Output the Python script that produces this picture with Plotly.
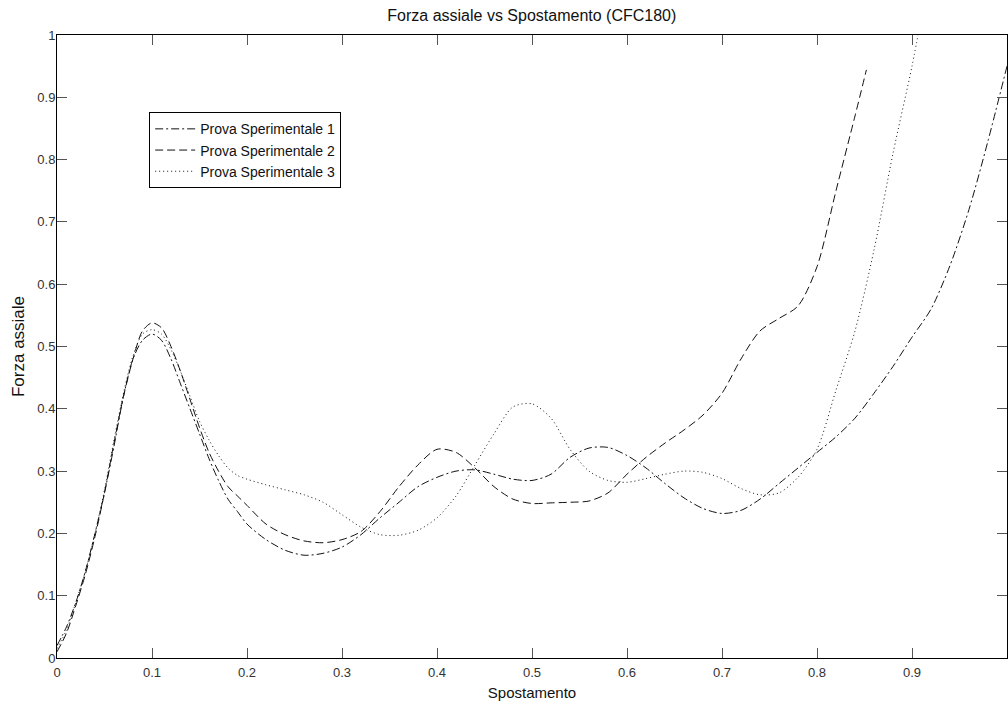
import plotly.graph_objects as go

# ---- data ----
x1 = [0, 0.01, 0.02, 0.03, 0.04, 0.05, 0.06, 0.07, 0.08, 0.09, 0.1, 0.11, 0.12, 0.13, 0.14,
      0.15, 0.16, 0.17, 0.18, 0.19, 0.2, 0.22, 0.24, 0.26, 0.28, 0.3, 0.32, 0.34, 0.36, 0.38,
      0.4, 0.42, 0.44, 0.46, 0.48, 0.5, 0.52, 0.54, 0.56, 0.58, 0.6, 0.62, 0.64, 0.66, 0.68,
      0.7, 0.72, 0.74, 0.76, 0.78, 0.8, 0.82, 0.84, 0.86, 0.88, 0.9, 0.92, 0.94, 0.96, 0.98, 1.0]
y1 = [0.02, 0.05, 0.09, 0.14, 0.2, 0.265, 0.34, 0.42, 0.48, 0.51, 0.52, 0.51, 0.48, 0.44, 0.4,
      0.36, 0.32, 0.285, 0.255, 0.235, 0.215, 0.19, 0.173, 0.165, 0.168, 0.178, 0.198, 0.225, 0.25, 0.275,
      0.29, 0.3, 0.302, 0.295, 0.287, 0.285, 0.295, 0.322, 0.337, 0.338, 0.325, 0.305, 0.28, 0.257, 0.24,
      0.232, 0.237, 0.255, 0.28, 0.305, 0.33, 0.355, 0.385, 0.425, 0.468, 0.515, 0.56, 0.63, 0.72, 0.83, 0.95]

x2 = [0, 0.01, 0.02, 0.03, 0.04, 0.05, 0.06, 0.07, 0.08, 0.09, 0.1, 0.11, 0.12, 0.13, 0.14,
      0.15, 0.16, 0.17, 0.18, 0.19, 0.2, 0.22, 0.24, 0.26, 0.28, 0.3, 0.32, 0.34, 0.36, 0.38,
      0.4, 0.42, 0.44, 0.46, 0.48, 0.5, 0.52, 0.54, 0.56, 0.58, 0.6, 0.62, 0.64, 0.66, 0.68,
      0.7, 0.72, 0.74, 0.76, 0.78, 0.8, 0.82, 0.84, 0.852]
y2 = [0.01, 0.04, 0.085, 0.135, 0.195, 0.265, 0.345, 0.42, 0.48, 0.525, 0.538, 0.53, 0.5, 0.46, 0.415,
      0.37, 0.33, 0.3, 0.275, 0.26, 0.245, 0.215, 0.198, 0.188, 0.185, 0.19, 0.203, 0.235, 0.275, 0.31,
      0.335, 0.33, 0.305, 0.275, 0.255, 0.248, 0.249, 0.25, 0.252, 0.265, 0.295, 0.322, 0.345, 0.366, 0.39,
      0.425, 0.48, 0.525, 0.545, 0.565, 0.628, 0.75, 0.87, 0.944]

x3 = [0, 0.01, 0.02, 0.03, 0.04, 0.05, 0.06, 0.07, 0.08, 0.09, 0.1, 0.11, 0.12, 0.13, 0.14,
      0.15, 0.16, 0.17, 0.18, 0.19, 0.2, 0.22, 0.24, 0.26, 0.28, 0.3, 0.32, 0.34, 0.36, 0.38,
      0.4, 0.42, 0.44, 0.46, 0.48, 0.5, 0.52, 0.54, 0.56, 0.58, 0.6, 0.62, 0.64, 0.66, 0.68,
      0.7, 0.72, 0.74, 0.76, 0.78, 0.8, 0.82, 0.84, 0.86, 0.88, 0.9, 0.91]
y3 = [0.015, 0.045, 0.09, 0.14, 0.2, 0.27, 0.35, 0.425, 0.485, 0.52, 0.527, 0.52, 0.495, 0.46, 0.42,
      0.38, 0.35, 0.325, 0.305, 0.293, 0.287, 0.278, 0.27, 0.262, 0.25, 0.23, 0.21, 0.198, 0.197, 0.205,
      0.225, 0.26, 0.31, 0.36, 0.403, 0.408, 0.385, 0.335, 0.3, 0.285, 0.282, 0.288, 0.295, 0.3, 0.298,
      0.288, 0.272, 0.262, 0.265, 0.29, 0.335, 0.43, 0.525, 0.655, 0.81, 0.95, 1.03]

names = ["Prova Sperimentale 1", "Prova Sperimentale 2", "Prova Sperimentale 3"]
dashes = ["8px,3px,2px,3px", "8px,4px", "1px,3px"]

x_ticks = [0, 0.1, 0.2, 0.3, 0.4, 0.5, 0.6, 0.7, 0.8, 0.9]
x_ticktext = ["0", "0.1", "0.2", "0.3", "0.4", "0.5", "0.6", "0.7", "0.8", "0.9"]
y_ticks = [0, 0.1, 0.2, 0.3, 0.4, 0.5, 0.6, 0.7, 0.8, 0.9, 1]
y_ticktext = ["0", "0.1", "0.2", "0.3", "0.4", "0.5", "0.6", "0.7", "0.8", "0.9", "1"]

FONT = "Liberation Sans, Arial, sans-serif"

fig = go.Figure()
for xs, ys, nm, ds in zip([x1, x2, x3], [y1, y2, y3], names, dashes):
    fig.add_trace(go.Scatter(
        x=xs, y=ys, name=nm, mode="lines",
        line=dict(color="#111111", width=1, dash=ds, shape="spline", smoothing=0.8),
    ))

axis_common = dict(
    showgrid=False, zeroline=False, showline=True, linecolor="black", linewidth=1,
    mirror="ticks", ticks="inside", ticklen=10, tickcolor="#555555", tickwidth=1,
    tickfont=dict(family=FONT, size=13, color="#333333"),
    automargin=False,
)

fig.update_layout(
    width=1008, height=704,
    margin=dict(l=57, r=1, t=35, b=46),
    paper_bgcolor="white", plot_bgcolor="white",
    title=dict(text="Forza assiale vs Spostamento (CFC180)", x=0.5276, xanchor="center",
               y=0.978, yanchor="middle",
               font=dict(family=FONT, size=16, color="#111111")),
    xaxis=dict(range=[0, 1], tickvals=x_ticks, ticktext=x_ticktext,
               ticklabelstandoff=2,
               title=dict(text="Spostamento", font=dict(family=FONT, size=15, color="#111111"),
                          standoff=8),
               **axis_common),
    yaxis=dict(range=[0, 1], tickvals=y_ticks, ticktext=y_ticktext,
               ticklabelstandoff=-2,
               title=dict(text="Forza assiale", font=dict(family=FONT, size=17, color="#111111"),
                          standoff=8),
               **axis_common),
    legend=dict(x=0.097, y=0.876, xanchor="left", yanchor="top",
                bgcolor="white", bordercolor="black", borderwidth=1,
                font=dict(family=FONT, size=14, color="#111111"),
                itemwidth=40, tracegroupgap=0),
    showlegend=True,
)

fig.write_html("out.html", config={"displayModeBar": False},
               post_script="document.body.style.margin='0';document.body.style.overflow='hidden';")
